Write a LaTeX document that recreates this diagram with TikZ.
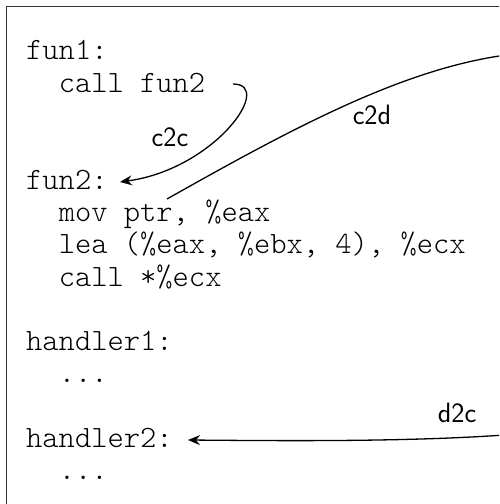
\documentclass[tikz,border=0pt]{standalone}
\usepackage{fontspec}
\newfontfamily\codefont{Latin Modern Mono Light}
\usetikzlibrary{arrows.meta}
\tikzset{
  code/.style={anchor=base west, inner sep=0pt, font=\codefont\fontsize{31}{36}\selectfont},
  lbl/.style={inner sep=0pt, font=\sffamily\fontsize{28}{32}\selectfont},
  flow/.style={line width=1.3pt, -{Stealth[length=12pt,width=10pt,inset=4pt]}},
  frame/.style={line width=1.8pt, draw={rgb,255:red,55;green,55;blue,55}}
}
\begin{document}
\begin{tikzpicture}[x=1pt,y=1pt]
\useasboundingbox (0,0) rectangle (499,504);
\clip (0,0) rectangle (499,504);
\fill[white] (0,0) rectangle (499,504);
\draw[frame] (6.5,-20) -- (6.5,497.5) -- (520,497.5);
% code lines
\node[code] (fun1) at (26,444) {fun1:};
\node[code] (callfun2) at (58.6,411.7) {call fun2};
\node[code] (fun2) at (26,314.8) {fun2:};
\node[code] (mov) at (58.6,282.5) {mov ptr, \%eax};
\node[code] (lea) at (58.6,250.2) {lea (\%eax, \%ebx, 4), \%ecx};
\node[code] (callecx) at (58.6,217.9) {call *\%ecx};
\node[code] (handler1) at (26,153.3) {handler1:};
\node[code] (dots1) at (58.6,121) {...};
\node[code] (handler2) at (26,56.4) {handler2:};
\node[code] (dots2) at (58.6,24.1) {...};
% connector ends
\coordinate (c2cS) at (233,420);
\coordinate (c2cE) at (120,322);
\coordinate (c2dS) at (167,305);
\coordinate (c2dE) at (540,452);
\coordinate (d2cS) at (540,72);
\coordinate (d2cE) at (188,64);
% connectors
\draw[flow] (c2cS) .. controls (275,420) and (215,335) .. (c2cE);
\draw[flow] (c2dS) .. controls (300,380) and (420,445) .. (c2dE);
\draw[flow] (d2cS) .. controls (440,62) and (300,63) .. (d2cE);
% labels
\node[lbl] (lc2c) at (170,367) {c2c};
\node[lbl] (lc2d) at (372,389) {c2d};
\node[lbl] (ld2c) at (457,91) {d2c};
\end{tikzpicture}
\end{document}
